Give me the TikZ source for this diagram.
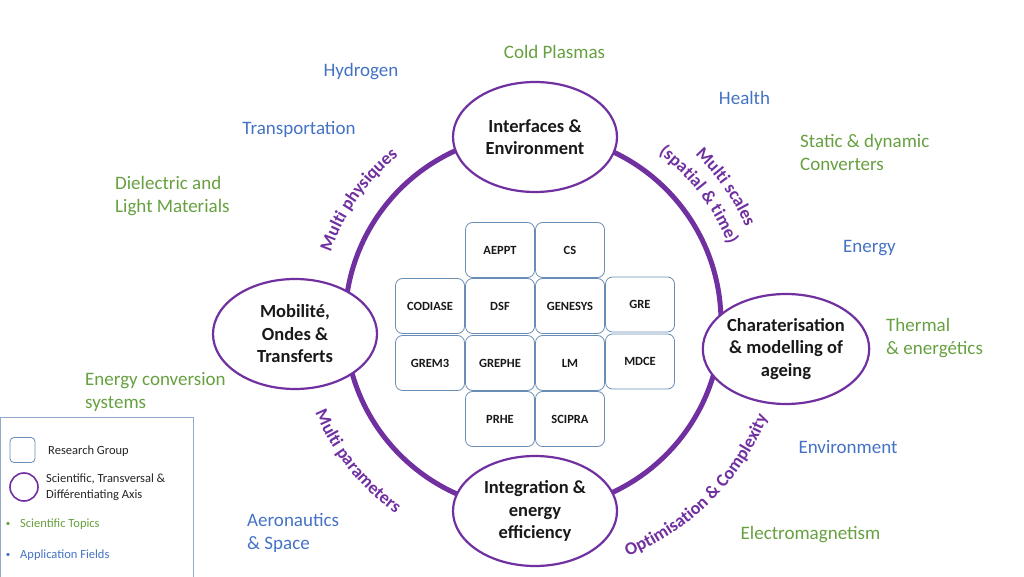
\documentclass[tikz,border=0pt]{standalone}
\usepackage{fontspec}
\setmainfont{Carlito}
\usetikzlibrary{shapes.geometric,decorations.text}
\definecolor{purp}{HTML}{7030A0}
\definecolor{tgreen}{HTML}{66A040}
\definecolor{tblue}{HTML}{4472C4}
\definecolor{boxblue}{HTML}{6A8DB5}
\definecolor{legblue}{HTML}{8FAACB}
\newcommand\curvefont{\fontsize{18}{21}\selectfont\bfseries}
\begin{document}
\begin{tikzpicture}[x=1pt,y=1pt,
 axis/.style={ellipse, draw=purp, line width=2.2pt, fill=white, minimum width=164pt, minimum height=110pt, inner sep=0pt, align=center, font=\fontsize{18.5}{22.5}\selectfont\bfseries, text=black!90},
 group/.style={rectangle, rounded corners=7pt, draw=boxblue, line width=0.8pt, fill=white, minimum width=69pt, minimum height=55pt, inner sep=0pt, font=\fontsize{12.5}{14}\selectfont\bfseries, text=black!90},
 topic/.style={text=tgreen, font=\fontsize{19}{23}\selectfont, align=left, inner sep=0pt},
 field/.style={text=tblue, font=\fontsize{19}{23}\selectfont, align=left, inner sep=0pt},
 legtext/.style={font=\fontsize{12.5}{16}\selectfont, align=left, inner sep=0pt, anchor=west},
 ring/.style={draw=purp, line width=5pt},
 curved/.style={decorate, decoration={text along path, text align=center, text color=purp}},
]
\useasboundingbox (0,0) rectangle (1024,576);
\coordinate (C) at (533,254);
\draw[ring] (C) circle (188);

% axes
\node[axis] (top) at (535,439) {Interfaces \&\\Environment};
\node[axis] (left) at (295,242) {Mobilité,\\Ondes \&\\Transferts};
\node[axis] (right) at (786,227) {Charaterisation\\\& modelling of\\ageing};
\node[axis] (bottom) at (535,65) {Integration \&\\energy\\efficiency};

% research groups
\node[group] (AEPPT) at (500,326) {AEPPT};
\node[group] (CS) at (570,326) {CS};
\node[group] (CODIASE) at (430,270) {CODIASE};
\node[group] (DSF) at (500,270) {DSF};
\node[group] (GENESYS) at (570,270) {GENESYS};
\node[group] (GRE) at (640,271.5) {GRE};
\node[group] (GREM3) at (430,213) {GREM3};
\node[group] (GREPHE) at (500,213) {GREPHE};
\node[group] (LM) at (570,213) {LM};
\node[group] (MDCE) at (640,214.5) {MDCE};
\node[group] (PRHE) at (500,157) {PRHE};
\node[group] (SCIPRA) at (570,157) {SCIPRA};

% curved axis labels
\path[curved, decoration={text={|\curvefont|Multi physiques}}] (C) ++(170:214) arc (170:120:214);
\path[curved, decoration={text={|\curvefont|Multi scales}}] (C) ++(60:233) arc (60:10:233);
\path[curved, decoration={text={|\curvefont|(spatial {\&} time)}}] (C) ++(65:210) arc (65:10:210);
\path[curved, decoration={text={|\curvefont|Multi parameters}}] (C) ++(190:236) arc (190:247:236);
\path[curved, decoration={text={|\curvefont|Optimisation {\&} Complexity}}] (C) ++(-85:253) arc (-85:-5:253);

% topics and fields
\node[topic] (cold) at (554.5,524) {Cold Plasmas};
\node[field] (hydro) at (361,504) {Hydrogen};
\node[field] (health) at (744.5,478) {Health};
\node[field] (transp) at (299,447) {Transportation};
\node[topic, anchor=west] (static) at (800,423.5) {Static \& dynamic\\Converters};
\node[topic, anchor=west] (diel) at (115,379.5) {Dielectric and\\Light Materials};
\node[field] (energy) at (869.5,328) {Energy};
\node[topic, anchor=west] (thermal) at (886,237.5) {Thermal\\\& energétics};
\node[topic, anchor=west] (econv) at (85,184.5) {Energy conversion\\systems};
\node[field] (env) at (848,129) {Environment};
\node[field, anchor=west] (aero) at (247,43.5) {Aeronautics\\\& Space};
\node[topic] (em) at (810.5,41) {Electromagnetism};

% legend
\draw[draw=legblue, line width=0.8pt, fill=white] (0.5,-5) rectangle (193,159);
\node[rectangle, rounded corners=4pt, draw=boxblue, line width=0.8pt, minimum size=25pt, inner sep=0pt] (lgbox) at (22.5,126) {};
\node[legtext, text=black!85] (lgboxt) at (48,125) {Research Group};
\node[circle, draw=purp, line width=1.6pt, minimum size=28pt, inner sep=0pt] (lgcirc) at (24,89) {};
\node[legtext, text=black!85] (lgcirct) at (46,89) {Scientific, Transversal \&\\Différentiating Axis};
\node[text=tgreen, font=\fontsize{9}{10}\selectfont, inner sep=0pt] (lgb1) at (8,52) {\textbullet};
\node[legtext, text=tgreen] (lgt1) at (20,52) {Scientific Topics};
\node[text=tblue, font=\fontsize{9}{10}\selectfont, inner sep=0pt] (lgb2) at (8,21) {\textbullet};
\node[legtext, text=tblue] (lgt2) at (20,21) {Application Fields};
\end{tikzpicture}
\end{document}
